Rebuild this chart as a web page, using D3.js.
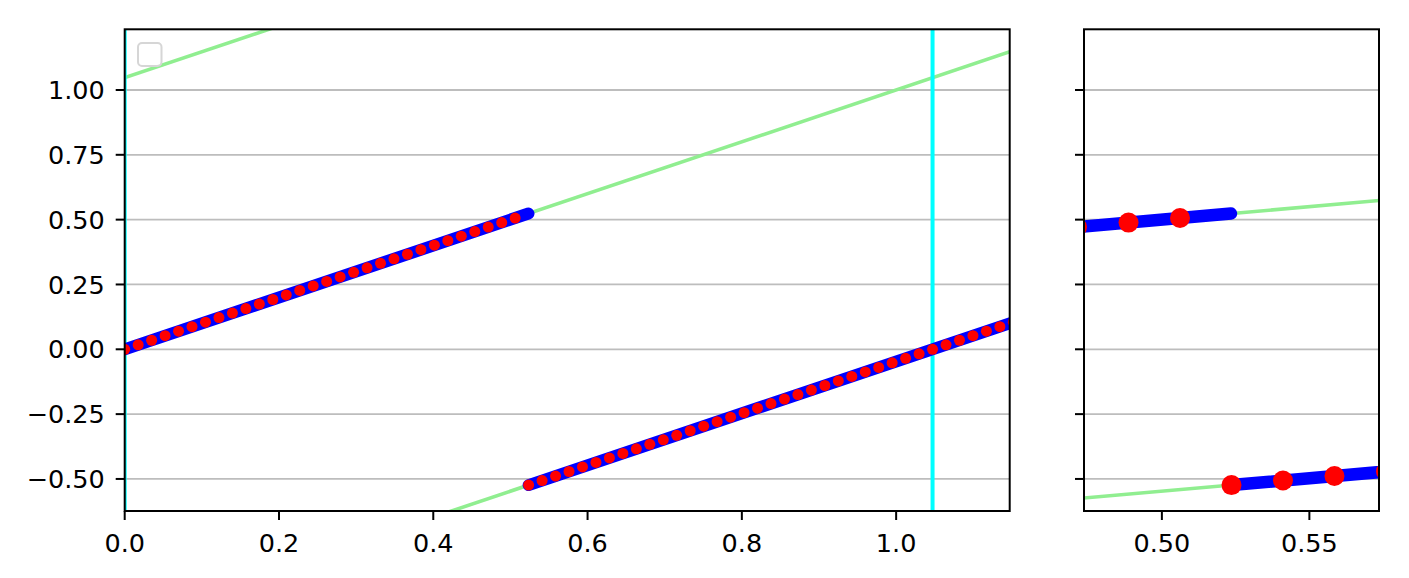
<!DOCTYPE html>
<html>
<head>
<meta charset="utf-8">
<script src="https://cdn.jsdelivr.net/npm/d3@7"></script>
<style>
	body { margin: 0; background: #fff; }
	svg { font-family: "DejaVu Sans", sans-serif; }
</style>
</head>
<body>
<div class="chart"></div>
<script>
// sampled angles (degrees) and their wrapped value (degrees)
const sampleDeg = [0,1,2,3,4,5,6,7,8,9,10,11,12,13,14,15,16,17,18,19,20,21,22,23,24,25,26,27,28,29,
	30,31,32,33,34,35,36,37,38,39,40,41,42,43,44,45,46,47,48,49,50,51,52,53,54,55,56,57,58,59,60,
	61,62,63,64,65,66];
const wrappedDeg = [0,1,2,3,4,5,6,7,8,9,10,11,12,13,14,15,16,17,18,19,20,21,22,23,24,25,26,27,28,29,
	-30,-29,-28,-27,-26,-25,-24,-23,-22,-21,-20,-19,-18,-17,-16,-15,-14,-13,-12,-11,-10,-9,-8,-7,-6,-5,-4,-3,-2,-1,0,
	1,2,3,4,5,6];

// dense series, one branch per segment
const blueBranchDeg = [[0, 29.99], [30, 66]];
const blueBranchWrapDeg = [[0, 29.99], [-30, 6]];

// reference lines (radians)
const greenX = [-0.3, 1.5];
const greenY0 = [-1.3472, -0.3, 0.7472];
const greenY1 = [0.4528, 1.5, 2.5472];
const cyanX = [0, 1.0472];

const yTicks = [-0.5, -0.25, 0, 0.25, 0.5, 0.75, 1.0];
const xTicksLeft = [0, 0.2, 0.4, 0.6, 0.8, 1.0];
const xTicksRight = [0.50, 0.55];

const rad = Math.PI / 180;
const width = 1409;
const height = 578;

const svg = d3.select('.chart')
	.append('svg')
	.attr('width', width)
	.attr('height', height);

const y = d3.scaleLinear()
	.domain([-0.6236, 1.234])
	.range([511, 29.3]);

function drawPanel(id, xDomain, xRange, xTicks, xFmt, showYLabels, redR, blueW) {
	const x = d3.scaleLinear().domain(xDomain).range(xRange);
	const g = svg.append('g');

	svg.append('clipPath')
		.attr('id', id)
		.append('rect')
		.attr('x', xRange[0])
		.attr('y', y.range()[1])
		.attr('width', xRange[1] - xRange[0])
		.attr('height', y.range()[0] - y.range()[1]);

	// grid
	g.selectAll('.grid')
		.data(yTicks)
		.enter()
		.append('line')
		.attr('x1', xRange[0])
		.attr('x2', xRange[1])
		.attr('y1', function(d) { return y(d); })
		.attr('y2', function(d) { return y(d); })
		.attr('stroke', '#bdbdbd')
		.attr('stroke-width', 1.8);

	const plot = g.append('g').attr('clip-path', `url(#${id})`);

	plot.selectAll('.green')
		.data(greenY0)
		.enter()
		.append('line')
		.attr('x1', x(greenX[0]))
		.attr('x2', x(greenX[1]))
		.attr('y1', function(d) { return y(d); })
		.attr('y2', function(d, i) { return y(greenY1[i]); })
		.attr('stroke', 'lightgreen')
		.attr('stroke-width', 3.6);

	plot.selectAll('.cyan')
		.data(cyanX)
		.enter()
		.append('line')
		.attr('x1', function(d) { return x(d); })
		.attr('x2', function(d) { return x(d); })
		.attr('y1', y.range()[0])
		.attr('y2', y.range()[1])
		.attr('stroke', 'cyan')
		.attr('stroke-width', 4);

	const line = d3.line()
		.x(function(d) { return x(d[0] * rad); })
		.y(function(d) { return y(d[1] * rad); });

	plot.selectAll('.blue')
		.data(blueBranchDeg)
		.enter()
		.append('path')
		.attr('d', function(d, i) {
			return line(d.map(function(v, j) { return [v, blueBranchWrapDeg[i][j]]; }));
		})
		.attr('fill', 'none')
		.attr('stroke', 'blue')
		.attr('stroke-width', blueW)
		.attr('stroke-linecap', 'round');

	plot.selectAll('.red')
		.data(sampleDeg)
		.enter()
		.append('circle')
		.attr('cx', function(d) { return x(d * rad); })
		.attr('cy', function(d, i) { return y(wrappedDeg[i] * rad); })
		.attr('r', redR)
		.attr('fill', 'red');

	// spines
	g.append('rect')
		.attr('x', xRange[0])
		.attr('y', y.range()[1])
		.attr('width', xRange[1] - xRange[0])
		.attr('height', y.range()[0] - y.range()[1])
		.attr('fill', 'none')
		.attr('stroke', 'black')
		.attr('stroke-width', 2);

	// x ticks
	const xt = g.selectAll('.xtick')
		.data(xTicks)
		.enter()
		.append('g')
		.attr('transform', function(d) { return `translate(${x(d)},511)`; });
	xt.append('line')
		.attr('y1', 0)
		.attr('y2', 9)
		.attr('stroke', 'black')
		.attr('stroke-width', 2);
	xt.append('text')
		.text(function(d) { return d3.format(xFmt)(d); })
		.attr('y', 41)
		.attr('text-anchor', 'middle')
		.attr('font-size', '25.5px')
		.attr('fill', 'black');

	// y ticks
	const yt = g.selectAll('.ytick')
		.data(yTicks)
		.enter()
		.append('g')
		.attr('transform', function(d) { return `translate(${xRange[0]},${y(d)})`; });
	yt.append('line')
		.attr('x1', 0)
		.attr('x2', -9)
		.attr('stroke', 'black')
		.attr('stroke-width', 2);
	if (showYLabels) {
		yt.append('text')
			.text(function(d) { return d3.format('.2f')(d); })
			.attr('x', -20)
			.attr('dy', '0.36em')
			.attr('text-anchor', 'end')
			.attr('font-size', '25.5px')
			.attr('fill', 'black');
	}
	return g;
}

const left = drawPanel('clipLeft', [0, 1.1472], [124.7, 1009.7], xTicksLeft, '.1f', true, 5.5, 12);
drawPanel('clipRight', [0.4736, 0.5736], [1084, 1379], xTicksRight, '.2f', false, 10, 12.5);

// empty legend box
left.append('rect')
	.attr('x', 138)
	.attr('y', 43)
	.attr('width', 23.5)
	.attr('height', 23)
	.attr('rx', 4)
	.attr('fill', 'white')
	.attr('fill-opacity', 0.8)
	.attr('stroke', '#d6d6d6')
	.attr('stroke-width', 2);
</script>
</body>
</html>
